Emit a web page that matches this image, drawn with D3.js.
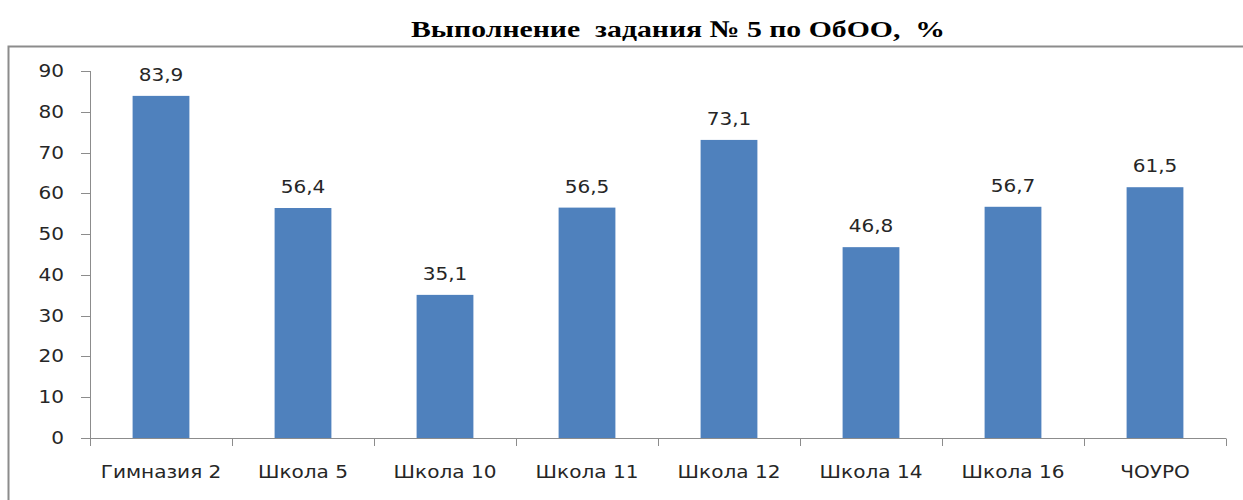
<!DOCTYPE html>
<html>
<head>
<meta charset="utf-8">
<script src="https://cdn.jsdelivr.net/npm/d3@7"></script>
<style>
  body { margin: 0; background: #fff; }
  svg text { font-family: "DejaVu Sans", Verdana, sans-serif; fill: #262626; }
</style>
</head>
<body>
<script>
const schools = ['Гимназия 2', 'Школа 5', 'Школа 10', 'Школа 11', 'Школа 12', 'Школа 14', 'Школа 16', 'ЧОУРО'];
const percents = [83.9, 56.4, 35.1, 56.5, 73.1, 46.8, 56.7, 61.5];
const yTicks = [0, 10, 20, 30, 40, 50, 60, 70, 80, 90];

const width = 1243;
const height = 500;
const stretch = 1.18;

const svg = d3.select('body')
	.append('svg')
	.attr('width', width)
	.attr('height', height);

// frame
svg.append('rect')
	.attr('x', 8.5)
	.attr('y', 46.5)
	.attr('width', width + 10)
	.attr('height', height)
	.attr('fill', 'none')
	.attr('stroke', '#8c8c8c')
	.attr('stroke-width', 2);

svg.append('text')
	.attr('transform', `translate(678,37) scale(1.24,1)`)
	.attr('text-anchor', 'middle')
	.style('font-family', '"Liberation Serif", "Times New Roman", serif')
	.style('font-weight', 'bold')
	.style('font-size', '24px')
	.style('fill', '#000')
	.style('white-space', 'pre')
	.text('Выполнение  задания № 5 по ОбОО,  %');

const x = d3.scaleBand()
	.domain(schools)
	.range([90, 1226])
	.paddingInner(0.6)
	.paddingOuter(0.3);

const y = d3.scaleLinear()
	.domain([0, 90])
	.range([438, 71]);

// y axis
const yAxis = svg.append('g');
yAxis.append('line')
	.attr('x1', 90.5).attr('x2', 90.5)
	.attr('y1', y(90)).attr('y2', y(0))
	.attr('stroke', '#8c8c8c');
yAxis.selectAll('.ytick')
	.data(yTicks)
	.join('line')
	.attr('x1', 81).attr('x2', 90.5)
	.attr('y1', (d) => Math.round(y(d)) + 0.5)
	.attr('y2', (d) => Math.round(y(d)) + 0.5)
	.attr('stroke', '#8c8c8c');
yAxis.selectAll('.ylabel')
	.data(yTicks)
	.join('text')
	.attr('transform', (d) => `translate(64,${y(d) + 6}) scale(${stretch},1)`)
	.attr('text-anchor', 'end')
	.style('font-size', '17px')
	.text((d) => d);

// x axis
const step = x.step();
const xAxis = svg.append('g');
xAxis.append('line')
	.attr('x1', 90).attr('x2', 1226)
	.attr('y1', 438.5).attr('y2', 438.5)
	.attr('stroke', '#8c8c8c');
xAxis.selectAll('.xtick')
	.data(d3.range(schools.length + 1))
	.join('line')
	.attr('x1', (i) => Math.round(x(schools[0]) - x.paddingOuter() * step + i * step) + 0.5)
	.attr('x2', (i) => Math.round(x(schools[0]) - x.paddingOuter() * step + i * step) + 0.5)
	.attr('y1', 438.5).attr('y2', 446)
	.attr('stroke', '#8c8c8c');
xAxis.selectAll('.xlabel')
	.data(schools)
	.join('text')
	.attr('transform', (d) => `translate(${x(d) + x.bandwidth() / 2},478) scale(${stretch},1)`)
	.attr('text-anchor', 'middle')
	.style('font-size', '17px')
	.text((d) => d);

// bars
const bars = svg.append('g')
	.selectAll('g')
	.data(schools)
	.join('g');

bars.append('rect')
	.attr('x', (d) => x(d))
	.attr('y', (d, i) => y(percents[i]))
	.attr('width', x.bandwidth())
	.attr('height', (d, i) => y(0) - y(percents[i]))
	.attr('fill', '#4f81bd');

bars.append('text')
	.attr('transform', (d, i) => `translate(${x(d) + x.bandwidth() / 2},${y(percents[i]) - 15}) scale(${stretch},1)`)
	.attr('text-anchor', 'middle')
	.style('font-size', '17px')
	.text((d, i) => String(percents[i]).replace('.', ','));
</script>
</body>
</html>
